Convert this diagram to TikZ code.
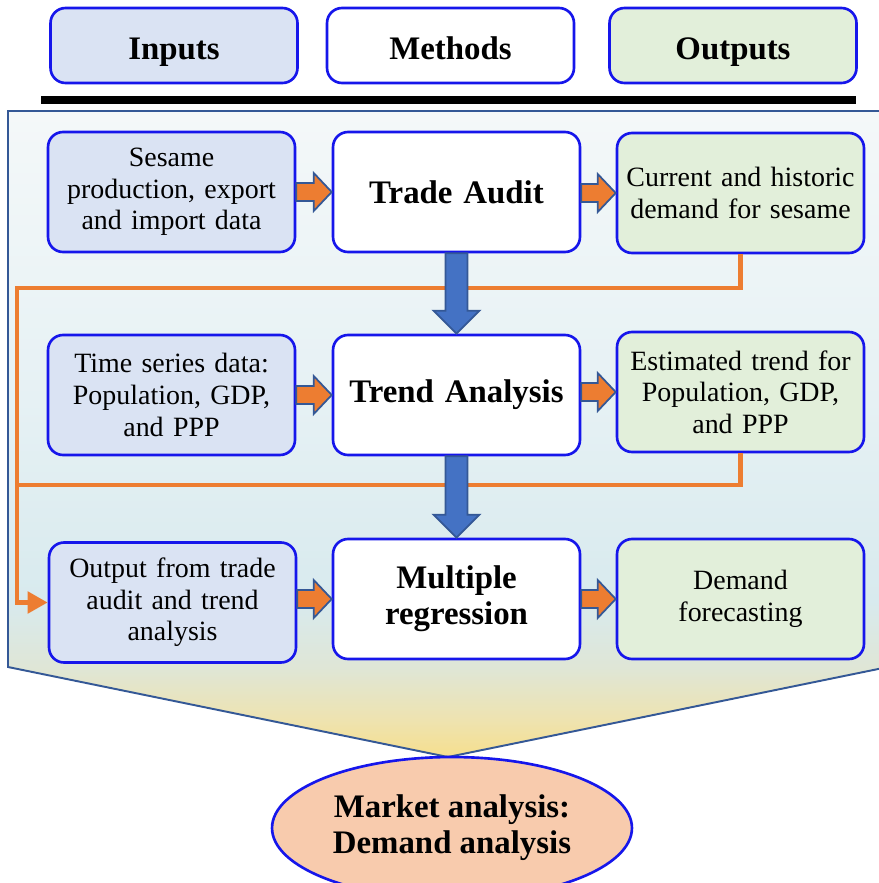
\documentclass[tikz,border=0pt]{standalone}
\usepackage{fontspec}
\setmainfont{Liberation Serif}
\usepackage{tikz}
\usetikzlibrary{positioning,calc,arrows.meta,shapes.geometric}
\frenchspacing

\definecolor{inblue}{RGB}{218,227,243}
\definecolor{outgreen}{RGB}{226,239,218}
\definecolor{boxblue}{RGB}{22,22,235}
\definecolor{arrorange}{RGB}{237,125,49}
\definecolor{arrblue}{RGB}{68,114,196}
\definecolor{edgeblue}{RGB}{52,88,150}
\definecolor{peach}{RGB}{248,203,173}
\definecolor{shA}{RGB}{246,223,142}
\definecolor{shB}{RGB}{238,227,176}
\definecolor{shC}{RGB}{223,230,214}
\definecolor{shD}{RGB}{216,234,238}
\definecolor{shE}{RGB}{230,241,244}
\definecolor{shF}{RGB}{244,248,249}

\pgfdeclareverticalshading{panelshade}{100bp}{color(0bp)=(shA); color(25bp)=(shA);
  color(27.9bp)=(shB); color(31.9bp)=(shC); color(37.1bp)=(shD);
  color(52.6bp)=(shE); color(75bp)=(shF); color(100bp)=(shF)}

% orange block arrow between two boxes of a row
\newcommand{\rightblock}[2]{%
  \coordinate (tail) at (#1.east |- #2.west);
  \draw[rarrow] ($(tail)+(0,0.18cm)$) -- ($(#2.west)+(-0.36cm,0.18cm)$)
    -- ($(#2.west)+(-0.36cm,0.38cm)$) -- (#2.west)
    -- ($(#2.west)+(-0.36cm,-0.38cm)$) -- ($(#2.west)+(-0.36cm,-0.18cm)$)
    -- ($(tail)+(0,-0.18cm)$) -- cycle;}

% blue block arrow between two method boxes
\newcommand{\downblock}[2]{%
  \draw[darrow] ($(#1.south)+(-0.22cm,0)$) -- ($(#2.north)+(-0.22cm,0.46cm)$)
    -- ($(#2.north)+(-0.46cm,0.46cm)$) -- (#2.north)
    -- ($(#2.north)+(0.46cm,0.46cm)$) -- ($(#2.north)+(0.22cm,0.46cm)$)
    -- ($(#1.south)+(0.22cm,0)$) -- cycle;}

\begin{document}
\begin{tikzpicture}[x=0.02cm,y=-0.02cm,line join=miter,
    box/.style={draw=boxblue,line width=1.5pt,rounded corners=0.3cm,
      minimum width=4.94cm,minimum height=2.4cm,text width=4.8cm,
      align=center,inner sep=0pt,font=\fontsize{15.9}{18}\selectfont},
    head/.style={box,minimum height=1.5cm,text height=0.8em,text depth=0.1em,
      font=\fontsize{18.7}{20.5}\selectfont\bfseries},
    method/.style={box,fill=white,font=\fontsize{18.7}{20.5}\selectfont\bfseries},
    input/.style={box,fill=inblue},
    output/.style={box,fill=outgreen},
    feed/.style={draw=arrorange,line width=2.8pt},
    rarrow/.style={fill=arrorange,draw=edgeblue,line width=1pt},
    darrow/.style={fill=arrblue,draw=edgeblue,line width=1pt}]

        \clip (0,0) rectangle (879,883);

        % shaded panel behind the three rows
        \draw[draw=edgeblue,line width=1.1pt,shading=panelshade]
            (8,111) -- (888,111) -- (888,667) -- (448,757) -- (8,667) -- cycle;

        % heading row and bar
        \node[head,fill=inblue] (hin) at (174,45.5) {\raisebox{-0.25em}{Inputs}};
        \node[head,fill=white] (hmeth) at (450.5,45.5) {\raisebox{-0.25em}{Methods}};
        \node[head,fill=outgreen] (hout) at (733,45.5) {\raisebox{-0.25em}{Outputs}};
        \draw[line width=5pt] (41,100) -- (856,100);

        % first row
        \node[input] (in1) at (171.5,192) {Sesame\\production, export\\and import data};
        \node[method] (audit) at (456.5,192) {Trade Audit};
        \node[output] (out1) at (740.5,193) {Current and historic\\demand for sesame};

        % second row
        \node[input] (in2) at (171.5,395) {Time series data:\\Population, GDP,\\and PPP};
        \node[method] (trend) at (456.5,395) {Trend Analysis};
        \node[output] (out2) at (740.5,392) {Estimated trend for\\Population, GDP,\\and PPP};

        % third row
        \node[input] (in3) at (172.5,602.5) {Output from trade\\audit and trend\\analysis};
        \node[method] (regr) at (456.5,599) {Multiple\\regression};
        \node[output] (out3) at (740.5,599) {Demand\\forecasting};

        \node[ellipse,draw=boxblue,line width=1.5pt,fill=peach,minimum width=7.2cm,
            minimum height=2.84cm,inner sep=0pt,align=center,
            font=\fontsize{18.7}{20.5}\selectfont\bfseries] (market) at (452,828)
            {Market analysis:\\Demand analysis};

        % feedback lines
        \coordinate (loopA) at (17,288);
        \coordinate (loopB) at (17,485);
        \draw[feed,-{Triangle[length=0.4cm,width=0.42cm]}] (out1.south) |- (loopA) |- (in3.west);
        \draw[feed] (out2.south) |- (loopB);

        \downblock{audit}{trend}
        \downblock{trend}{regr}

        \rightblock{in1}{audit}
        \rightblock{audit}{out1}
        \rightblock{in2}{trend}
        \rightblock{trend}{out2}
        \rightblock{in3}{regr}
        \rightblock{regr}{out3}

    \end{tikzpicture}
\end{document}
